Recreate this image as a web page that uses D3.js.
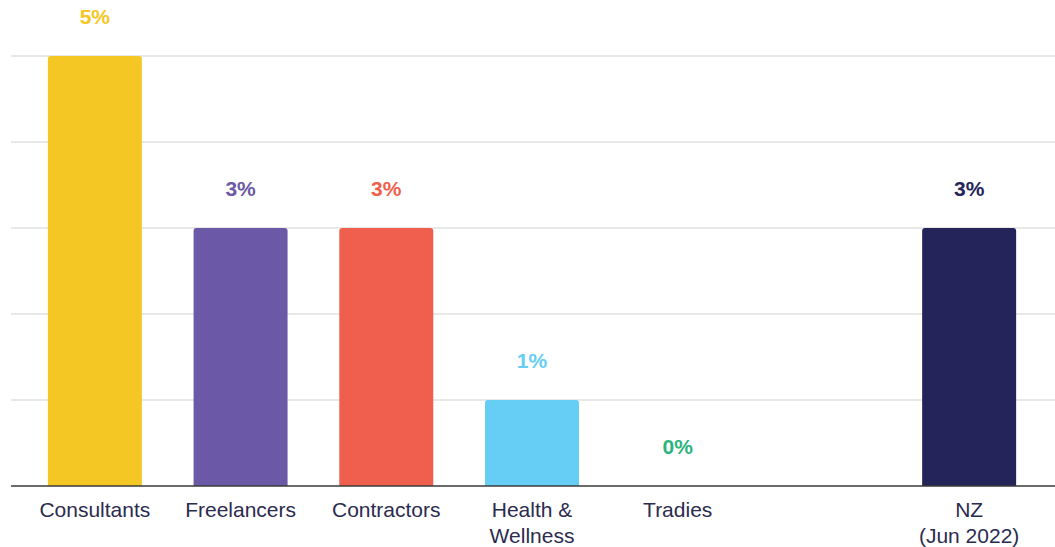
<!DOCTYPE html>
<html>
<head>
<meta charset="utf-8">
<script src="https://cdn.jsdelivr.net/npm/d3@7"></script>
<style>
    body { margin: 0; background: #fff; }
    #chart text { font-family: "Liberation Sans", Arial, sans-serif; }
</style>
</head>
<body>
<div id="chart"></div>
<script>
// categories (empty slot before NZ keeps the gap)
const categories = ["Consultants", "Freelancers", "Contractors", "Health & Wellness", "Tradies", "", "NZ (Jun 2022)"];
const labelLines = [["Consultants"], ["Freelancers"], ["Contractors"], ["Health &", "Wellness"], ["Tradies"], [], ["NZ", "(Jun 2022)"]];
const values = [5, 3, 3, 1, 0, null, 3];
const colors = ["#F4C724", "#6B58A6", "#F05F4D", "#66CDF5", "#2BB47E", null, "#24245A"];
const gridTicks = [1, 2, 3, 4, 5];

function main() {
    const width = 1055;
    const height = 547;
    const margin = {top: 56, bottom: 61, left: 11, right: 0};

    const svg = d3.select("#chart")
        .append("svg")
        .attr("width", width)
        .attr("height", height);

    const xScale = d3.scaleBand()
        .domain(categories)
        .range([22, 1042])
        .paddingInner(0.355)
        .paddingOuter(0.1775);

    const yScale = d3.scaleLinear()
        .domain([0, 5])
        .range([height - margin.bottom, margin.top]);

    // gridlines
    svg.selectAll(".grid")
        .data(gridTicks)
        .enter()
        .append("line")
        .attr("class", "grid")
        .attr("x1", margin.left)
        .attr("x2", width)
        .attr("y1", d => yScale(d))
        .attr("y2", d => yScale(d))
        .style("stroke", "#d2d2d2")
        .style("stroke-width", 1.2);

    const data = categories.map((c, i) => ({cat: c, value: values[i], color: colors[i], lines: labelLines[i]}))
        .filter(d => d.value !== null);

    // bars with slightly rounded tops
    const r = 3;
    svg.selectAll(".bar")
        .data(data.filter(d => d.value > 0))
        .enter()
        .append("path")
        .attr("class", "bar")
        .attr("d", function(d) {
            const x0 = xScale(d.cat), x1 = x0 + xScale.bandwidth();
            const y0 = yScale(d.value), y1 = yScale(0);
            return `M${x0},${y1} L${x0},${y0 + r} Q${x0},${y0} ${x0 + r},${y0} L${x1 - r},${y0} Q${x1},${y0} ${x1},${y0 + r} L${x1},${y1} Z`;
        })
        .style("fill", d => d.color);

    // baseline
    svg.append("line")
        .attr("x1", margin.left)
        .attr("x2", width)
        .attr("y1", yScale(0))
        .attr("y2", yScale(0))
        .style("stroke", "#3a3a3a")
        .style("stroke-width", 1.3);

    // value labels
    svg.selectAll(".valueLabel")
        .data(data)
        .enter()
        .append("text")
        .attr("class", "valueLabel")
        .attr("x", d => xScale(d.cat) + xScale.bandwidth() / 2)
        .attr("y", d => yScale(d.value) - 32)
        .attr("text-anchor", "middle")
        .style("font-size", "21px")
        .style("font-weight", "bold")
        .style("fill", d => d.color)
        .text(d => d.value + "%");

    // category labels
    const catLabels = svg.selectAll(".catLabel")
        .data(data)
        .enter()
        .append("text")
        .attr("class", "catLabel")
        .attr("x", d => xScale(d.cat) + xScale.bandwidth() / 2)
        .attr("y", yScale(0) + 31)
        .attr("text-anchor", "middle")
        .style("font-size", "21px")
        .style("fill", "#2B2B4E");

    catLabels.selectAll("tspan")
        .data(d => d.lines.map(l => ({line: l, x: xScale(d.cat) + xScale.bandwidth() / 2})))
        .enter()
        .append("tspan")
        .attr("x", d => d.x)
        .attr("dy", (d, i) => i === 0 ? 0 : 26)
        .text(d => d.line);
}

main();
</script>
</body>
</html>
